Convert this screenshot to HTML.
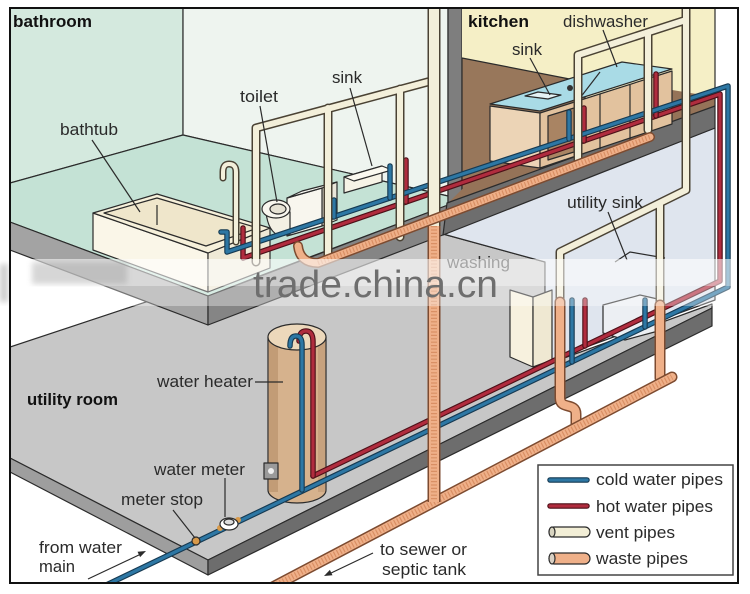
<!DOCTYPE html>
<html><head><meta charset="utf-8"><style>
html,body{margin:0;padding:0;background:#fff;}
svg{display:block;}
text{font-family:"Liberation Sans",Arial,sans-serif;fill:#2a2a2a;font-size:17px;}
.b{font-weight:bold;fill:#111;}
.ln{stroke:#2b2b2b;stroke-width:1.2;fill:none;}
.o{stroke:#2b2b2b;stroke-width:1.2;stroke-linejoin:round;}
.vo{fill:none;stroke:#4a4234;stroke-width:9;stroke-linecap:round;stroke-linejoin:round;}
.vi{fill:none;stroke:#f3efda;stroke-width:6;stroke-linecap:round;stroke-linejoin:round;}
.wo{fill:none;stroke:#7d4b30;stroke-width:11;stroke-linecap:round;stroke-linejoin:round;}
.wi{fill:none;stroke:#efb089;stroke-width:8;stroke-linecap:round;stroke-linejoin:round;}
.wt{fill:none;stroke:#d98f64;stroke-width:6;stroke-dasharray:1.2 2.2;}
.bo{fill:none;stroke:#163a52;stroke-width:5.5;stroke-linecap:round;stroke-linejoin:round;}
.bi{fill:none;stroke:#2d77a4;stroke-width:3.2;stroke-linecap:round;stroke-linejoin:round;}
.ro{fill:none;stroke:#4d1018;stroke-width:5.5;stroke-linecap:round;stroke-linejoin:round;}
.ri{fill:none;stroke:#b02c3e;stroke-width:3.2;stroke-linecap:round;stroke-linejoin:round;}
</style></head><body>
<svg width="750" height="594" viewBox="0 0 750 594" xmlns="http://www.w3.org/2000/svg">
<defs>
<clipPath id="fr"><rect x="10" y="8" width="728" height="575"/></clipPath>
<filter id="bl"><feGaussianBlur stdDeviation="3"/></filter>
</defs>
<rect width="750" height="594" fill="#fff"/>
<g clip-path="url(#fr)">
<!-- utility floor -->
<polygon points="10,347 200,284 443,234 545,262 545,365 712,304 712,308 208,560 10,458" fill="#c7c7c7" class="o"/>
<polygon points="443,234 715,128 715,300 545,362 545,262" fill="#dfe5ee" class="o"/>
<polygon points="10,458 208,560 208,575 10,472" fill="#9e9e9e" class="o"/>
<polygon points="208,560 712,308 712,326 208,575" fill="#6d6d6d" class="o"/>
<!-- bathroom -->
<polygon points="10,8 183,8 183,135 10,183" fill="#d4e9de" class="o"/>
<polygon points="183,8 448,8 448,196 183,135" fill="#eef4ef" class="o"/>
<polygon points="10,183 183,135 448,196 448,205 270,272 208,296 10,222" fill="#c4e2d5" class="o"/>
<polygon points="10,222 208,296 208,325 10,250" fill="#a3a3a3" class="o"/>
<polygon points="208,296 448,205 448,233 208,325" fill="#858585" class="o"/>
<!-- partition -->
<polygon points="448,8 462,8 462,208 448,210" fill="#7e7e7e" class="o"/>
<!-- kitchen -->
<rect x="462" y="8" width="253" height="110" fill="#f5efc6"/>
<polygon points="462,58 585,82 585,172 462,208" fill="#98775b" class="o"/>
<polygon points="447,204 490,162 540,168 672,124 672,90 715,97 715,106" fill="#957358"/>
<line x1="715" y1="8" x2="715" y2="106" class="ln"/>
<polygon points="447,203 715,106 715,128 443,235" fill="#6e6e6e" class="o"/>
<!-- cabinets -->
<polygon points="490,106 540,113 540,168 490,161" fill="#ecd4b6" class="o"/>
<polygon points="540,113 672,71 672,124 540,168" fill="#e2c29e" class="o"/>
<polygon points="548,116 574,108 574,152 548,160" fill="#a98463" class="o"/>
<line x1="600" y1="94" x2="600" y2="149" class="ln"/>
<line x1="630" y1="85" x2="630" y2="140" class="ln"/>
<polygon points="490,104 540,111 672,69 622,62" fill="#a9dbe6" class="o"/>
<polygon points="525,96 548,99 561,95 538,92" fill="#e4f2f4" class="o"/>
<line x1="580" y1="98" x2="600" y2="72" class="ln"/>
<circle cx="570" cy="88" r="3" fill="#333"/>
<!-- washer -->
<polygon points="510,290 533,297 533,367 510,357" fill="#f7f1de" class="o"/>
<polygon points="533,297 552,290 552,360 533,367" fill="#efe8d2" class="o"/>
<!-- utility sink -->
<polygon points="603,305 640,295 662,300 662,330 625,340 603,333" fill="#eceff3" class="o"/>
<polyline points="615,262 630,252 665,258" class="ln"/>
<!-- bathtub -->
<polygon points="93,213 208,253 208,292 93,250" fill="#faf6e8" class="o"/>
<polygon points="208,253 270,228 270,268 208,292" fill="#efe9d6" class="o"/>
<polygon points="93,213 157,194 270,228 208,253" fill="#f6f0da" class="o"/>
<polygon points="104,213 157,198 258,228 206,246" fill="#efe6cb" class="o"/>
<line x1="157" y1="205" x2="157" y2="225" class="ln"/>
<!-- toilet -->
<polygon points="322,188 337,182 337,220 322,226" fill="#e9e6da" class="o"/>
<polygon points="287,198 322,188 322,226 287,236" fill="#f8f6ee" class="o"/>
<polygon points="287,198 302,191 337,182 322,188" fill="#fdfcf6" class="o"/>
<path d="M266,212 Q268,232 280,236 L290,234 V212 Z" fill="#f3f0e4" class="o"/>
<ellipse cx="276" cy="209" rx="14" ry="9" fill="#f8f6ee" class="o"/>
<ellipse cx="278" cy="209" rx="8" ry="5" fill="#e6e2d4" class="o"/>
<!-- bath sink -->
<polygon points="344,177 382,166 382,182 344,193" fill="#f7f3e6" class="o"/>
<polygon points="344,177 382,166 392,170 354,181" fill="#fbf9f0" class="o"/>
<!-- heater -->
<path d="M268,337 V490 A29,13 0 0 0 326,490 V337 Z" fill="#d6b28d" class="o"/>
<rect x="269" y="340" width="9" height="152" fill="#c29c76"/>
<rect x="318" y="340" width="7" height="152" fill="#c7a27e"/>
<ellipse cx="297" cy="337" rx="29" ry="13" fill="#ecd8bb" class="o"/>
<rect x="264" y="463" width="14" height="16" fill="#9a9a9a" class="o"/>
<circle cx="271" cy="471" r="3" fill="#eee"/>
<!-- supply pipes -->
<g>
<path class="ro" d="M313,476 L720,281 V94 L243,258 V228"/>
<path class="ri" d="M313,476 L720,281 V94 L243,258 V228"/>
<path class="ro" d="M313,476 V342 Q313,331 306,331 Q299,331 299,341"/>
<path class="ri" d="M313,476 V342 Q313,331 306,331 Q299,331 299,341"/>
<path class="ro" d="M406,202 V160 M584,141 V108 M656,116 V74 M585,346 V300"/>
<path class="ri" d="M406,202 V160 M584,141 V108 M656,116 V74 M585,346 V300"/>
<path class="bo" d="M100,588 L728,287 V86 L227,252 V232 L221,232"/>
<path class="bi" d="M100,588 L728,287 V86 L227,252 V232 L221,232"/>
<path class="bo" d="M302,490 V345 Q302,336 296,336 Q290,336 290,346"/>
<path class="bi" d="M302,490 V345 Q302,336 296,336 Q290,336 290,346"/>
<path class="bo" d="M390,198 V166 M334,217 V200 M569,139 V112 M572,362 V300 M645,327 V300"/>
<path class="bi" d="M390,198 V166 M334,217 V200 M569,139 V112 M572,362 V300 M645,327 V300"/>
</g>
<!-- vent pipes -->
<path class="vo" d="M236,242 V172 Q236,164 229,164 Q223,164 223,172 V178" style="stroke-width:7"/>
<path class="vi" d="M236,242 V172 Q236,164 229,164 Q223,164 223,172 V178" style="stroke-width:4"/>
<g>
<path class="vo" d="M435,80 L256,128 V262 M328,108 V257 M400,89 V237 M686,0 V190 L560,252 V302 M660,204 V305 M578,160 V55 L686,20 M648,33 V130"/>
<path class="vi" d="M435,80 L256,128 V262 M328,108 V257 M400,89 V237 M686,0 V190 L560,252 V302 M660,204 V305 M578,160 V55 L686,20 M648,33 V130"/>
<path class="vo" d="M434,0 V226" style="stroke-width:13;stroke-linecap:butt"/>
<path class="vi" d="M434,0 V226" style="stroke-width:10;stroke-linecap:butt"/>
</g>
<!-- waste pipes -->
<g>
<path class="wo" d="M298,246 Q300,263 318,263 L650,137" style="stroke-width:10"/>
<path class="wi" d="M298,246 Q300,263 318,263 L650,137" style="stroke-width:7"/>
<path class="wt" d="M318,263 L650,137" style="stroke-width:5"/>
<path class="wo" d="M560,302 V398 C560,410 576,402 576,414 V424 M660,305 V378"/>
<path class="wi" d="M560,302 V398 C560,410 576,402 576,414 V424 M660,305 V378"/>
<path class="wo" d="M265,591 L672,377"/>
<path class="wi" d="M265,591 L672,377"/>
<path class="wt" d="M265,591 L672,377"/>
<path class="wo" d="M434,226 V502" style="stroke-width:13;stroke-linecap:butt"/>
<path class="wi" d="M434,226 V502" style="stroke-width:10;stroke-linecap:butt"/>
<path class="wt" d="M434,226 V500"/>
</g>
<!-- meter -->
<circle cx="196" cy="541" r="4" fill="#d89a4a" class="o"/>
<circle cx="220" cy="528" r="3" fill="#d89a4a"/>
<circle cx="238" cy="520" r="3" fill="#d89a4a"/>
<ellipse cx="229" cy="524" rx="9" ry="6" fill="#fff" class="o"/>
<ellipse cx="229" cy="522" rx="5" ry="3" fill="#ddd" class="o"/>
<!-- pointer lines -->
<g class="ln">
<line x1="92" y1="140" x2="140" y2="212"/>
<line x1="260" y1="106" x2="277" y2="202"/>
<line x1="350" y1="88" x2="372" y2="166"/>
<line x1="530" y1="58" x2="550" y2="95"/>
<line x1="603" y1="30" x2="617" y2="67"/>
<line x1="608" y1="212" x2="627" y2="260"/>
<line x1="255" y1="382" x2="283" y2="382"/>
<line x1="225" y1="478" x2="225" y2="517"/>
<line x1="173" y1="510" x2="195" y2="538"/>
<line x1="88" y1="579" x2="141" y2="554"/>
<line x1="373" y1="553" x2="329" y2="574"/>
</g>
<polygon points="146,551 140.1,557.1 137.5,551.7" fill="#2b2b2b"/>
<polygon points="324,576 332.5,575.3 329.9,569.9" fill="#2b2b2b"/>
<!-- labels -->
<text x="13" y="27" class="b" textLength="79" lengthAdjust="spacingAndGlyphs">bathroom</text>
<text x="468" y="27" class="b" textLength="61" lengthAdjust="spacingAndGlyphs">kitchen</text>
<text x="563" y="27" textLength="85" lengthAdjust="spacingAndGlyphs">dishwasher</text>
<text x="512" y="55" textLength="30" lengthAdjust="spacingAndGlyphs">sink</text>
<text x="240" y="102" textLength="38" lengthAdjust="spacingAndGlyphs">toilet</text>
<text x="332" y="83" textLength="30" lengthAdjust="spacingAndGlyphs">sink</text>
<text x="60" y="135" textLength="58" lengthAdjust="spacingAndGlyphs">bathtub</text>
<text x="567" y="208" textLength="76" lengthAdjust="spacingAndGlyphs">utility sink</text>
<text x="447" y="268" textLength="63" lengthAdjust="spacingAndGlyphs">washing</text>
<text x="27" y="405" class="b" textLength="91" lengthAdjust="spacingAndGlyphs">utility room</text>
<text x="157" y="387" textLength="96" lengthAdjust="spacingAndGlyphs">water heater</text>
<text x="154" y="475" textLength="91" lengthAdjust="spacingAndGlyphs">water meter</text>
<text x="121" y="505" textLength="82" lengthAdjust="spacingAndGlyphs">meter stop</text>
<text x="39" y="553" textLength="83" lengthAdjust="spacingAndGlyphs">from water</text>
<text x="39" y="572" textLength="36" lengthAdjust="spacingAndGlyphs">main</text>
<text x="380" y="555" textLength="87" lengthAdjust="spacingAndGlyphs">to sewer or</text>
<text x="382" y="575" textLength="84" lengthAdjust="spacingAndGlyphs">septic tank</text>
<!-- legend -->
<rect x="538" y="465" width="195" height="110" fill="#fff" stroke="#444" stroke-width="1.5"/>
<line x1="550" y1="480" x2="587" y2="480" class="bo"/><line x1="550" y1="480" x2="587" y2="480" class="bi"/>
<line x1="550" y1="506" x2="587" y2="506" class="ro"/><line x1="550" y1="506" x2="587" y2="506" class="ri"/>
<rect x="549" y="527" width="41" height="10" rx="5" fill="#f2eed6" class="o"/>
<ellipse cx="552" cy="532" rx="3" ry="5" fill="#d8d4c0" class="o"/>
<rect x="549" y="553" width="41" height="11" rx="5.5" fill="#efb089" class="o"/>
<ellipse cx="552" cy="558.5" rx="3" ry="5.5" fill="#d9d0c4" class="o"/>
<text x="596" y="485" textLength="127" lengthAdjust="spacingAndGlyphs">cold water pipes</text>
<text x="596" y="512" textLength="117" lengthAdjust="spacingAndGlyphs">hot water pipes</text>
<text x="596" y="538" textLength="79" lengthAdjust="spacingAndGlyphs">vent pipes</text>
<text x="596" y="564" textLength="92" lengthAdjust="spacingAndGlyphs">waste pipes</text>
</g>
<!-- watermark band -->
<rect x="0" y="259" width="750" height="27" fill="#fff" opacity="0.58"/>
<rect x="0" y="286" width="750" height="20" fill="#fff" opacity="0.35"/>
<rect x="32" y="262" width="95" height="22" fill="#9a9a9a" opacity="0.4" filter="url(#bl)"/>
<rect x="0" y="264" width="8" height="38" fill="#9a9a9a" opacity="0.5" filter="url(#bl)"/>
<text x="253" y="297" style="font-size:38px;fill:#6e6e6e" textLength="245" lengthAdjust="spacingAndGlyphs">trade.china.cn</text>
<!-- frame -->
<rect x="10" y="8" width="728" height="575" fill="none" stroke="#111" stroke-width="2"/>
</svg>
</body></html>
